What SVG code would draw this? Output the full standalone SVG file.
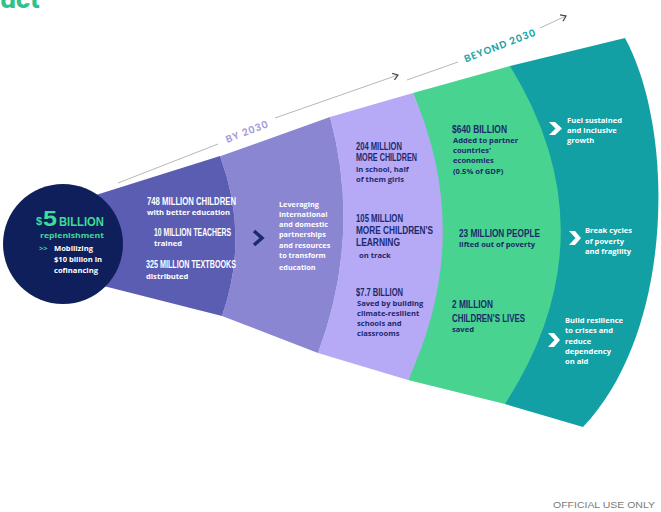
<svg xmlns="http://www.w3.org/2000/svg" width="661" height="512" viewBox="0 0 661 512">
<style>
.hd{font-family:"Liberation Sans",Arial,sans-serif;font-weight:700;font-size:11.5px}
.bd{font-family:"Open Sans","Liberation Sans",sans-serif;font-weight:700;font-size:7.6px}
.sm{font-size:7.3px}
.w{fill:#ffffff}
.n{fill:#1b2a6b}
.g{fill:#3ddc97}
.tl{stroke:#b8b8b8;stroke-width:1;fill:none}
.chev{fill:#ffffff}
</style>
<defs>
<marker id="arr" markerWidth="8" markerHeight="8" refX="6" refY="4" orient="auto" markerUnits="userSpaceOnUse">
<path d="M1,0.5 L6,4 L1,7.5" fill="none" stroke="#444" stroke-width="1.2"/>
</marker>
</defs>
<rect width="661" height="512" fill="#ffffff"/>
<text x="0" y="8" font-family="Poppins,'Liberation Sans',sans-serif" font-weight="700" font-size="22" fill="#2ec38b" textLength="40" lengthAdjust="spacingAndGlyphs">uct</text>

<g id="connectors">
<path class="tl" d="M118,183 L218,144"/>
<path class="tl" d="M275,118 L398,75" marker-end="url(#arr)"/>
<path class="tl" d="M407,80 L458,62"/>
<path class="tl" d="M540,28 L566,16" marker-end="url(#arr)"/>
<text x="247" y="135" transform="rotate(-21 247 131)" text-anchor="middle" font-family="Poppins,'Open Sans','Liberation Sans',sans-serif" font-weight="600" font-size="10" letter-spacing="0.8" fill="#a29ed9">BY 2030</text>
<text x="500" y="49" transform="rotate(-21 500 45)" text-anchor="middle" font-family="Poppins,'Open Sans','Liberation Sans',sans-serif" font-weight="600" font-size="10" letter-spacing="0.8" fill="#22a5a8">BEYOND 2030</text>
</g>

<g id="band5">
<path d="M510,66 L625,38 C675,130 675,330 583,427 L505,404 Z" fill="#12a0a5"/>
<path class="chev" d="M549,122 L555,122 L562,128.5 L555,135 L549,135 L555.5,128.5 Z"/>
<text class="bd w" x="567" y="123">Fuel sustained</text>
<text class="bd w" x="567" y="133">and inclusive</text>
<text class="bd w" x="567" y="143">growth</text>
<path class="chev" d="M569,231 L575,231 L581,238 L575,245 L569,245 L575.5,238 Z"/>
<text class="bd w" x="585" y="233">Break cycles</text>
<text class="bd w" x="585" y="243.5">of poverty</text>
<text class="bd w" x="585" y="254">and fragility</text>
<path class="chev" d="M548,333 L554,333 L560,340 L554,347 L548,347 L554.5,340 Z"/>
<text class="bd w" x="565" y="323">Build resilience</text>
<text class="bd w" x="565" y="333">to crises and</text>
<text class="bd w" x="565" y="344">reduce</text>
<text class="bd w" x="565" y="354">dependency</text>
<text class="bd w" x="565" y="364">on aid</text>
</g>

<g id="band4">
<path d="M413,93 L510,66 Q614,235 505,404 L408,380 Q470,236 413,93 Z" fill="#48d391"/>
<text class="hd n" x="452" y="133" textLength="55" lengthAdjust="spacingAndGlyphs">$640 BILLION</text>
<text class="bd n" x="453" y="143">Added to partner</text>
<text class="bd n" x="453" y="153">countries'</text>
<text class="bd n" x="453" y="163">economies</text>
<text class="bd n" x="453" y="174">(0.5% of GDP)</text>
<text class="hd n" x="459" y="237" textLength="81" lengthAdjust="spacingAndGlyphs">23 MILLION PEOPLE</text>
<text class="bd n" x="459" y="247">lifted out of poverty</text>
<text class="hd n" x="452" y="308" textLength="41" lengthAdjust="spacingAndGlyphs">2 MILLION</text>
<text class="hd n" x="452" y="322" textLength="73" lengthAdjust="spacingAndGlyphs">CHILDREN'S LIVES</text>
<text class="bd n" x="452" y="332">saved</text>
</g>

<g id="band3">
<path d="M330,117 L413,93 Q475,236 408,380 L318,353 Q362,235 330,117 Z" fill="#b6a9f6"/>
<text class="hd n" x="356" y="150" textLength="46" lengthAdjust="spacingAndGlyphs">204 MILLION</text>
<text class="hd n" x="356" y="161" textLength="61" lengthAdjust="spacingAndGlyphs">MORE CHILDREN</text>
<text class="bd n" x="356" y="172">in school, half</text>
<text class="bd n" x="356" y="182">of them girls</text>
<text class="hd n" x="356" y="222" textLength="47" lengthAdjust="spacingAndGlyphs">105 MILLION</text>
<text class="hd n" x="356" y="234" textLength="77" lengthAdjust="spacingAndGlyphs">MORE CHILDREN'S</text>
<text class="hd n" x="356" y="246" textLength="44" lengthAdjust="spacingAndGlyphs">LEARNING</text>
<text class="bd n" x="359" y="258">on track</text>
<text class="hd n" x="356" y="296" textLength="47" lengthAdjust="spacingAndGlyphs">$7.7 BILLION</text>
<text class="bd n" x="357" y="306">Saved by building</text>
<text class="bd n" x="357" y="316">climate-resilient</text>
<text class="bd n" x="357" y="326">schools and</text>
<text class="bd n" x="357" y="336">classrooms</text>
</g>

<g id="band2">
<path d="M218,157 L330,117 Q362,235 318,353 L222,316 Q250,236 220,156 Z" fill="#8a86d1"/>
<path d="M254,231 L262,238 L254,245" fill="none" stroke="#1b2a6b" stroke-width="3.5" stroke-linejoin="miter"/>
<text class="bd sm w" x="279" y="207">Leveraging</text>
<text class="bd sm w" x="279" y="217">international</text>
<text class="bd sm w" x="279" y="227">and domestic</text>
<text class="bd sm w" x="279" y="237">partnerships</text>
<text class="bd sm w" x="279" y="247.5">and resources</text>
<text class="bd sm w" x="279" y="258">to transform</text>
<text class="bd sm w" x="279" y="269.5">education</text>
</g>

<g id="band1">
<path d="M80,200 L220,156 Q250,236 222,316 L80,280 Z" fill="#5b5db3"/>
<text class="hd w" x="147" y="205" textLength="89" lengthAdjust="spacingAndGlyphs">748 MILLION CHILDREN</text>
<text class="bd w" x="147" y="215">with better education</text>
<text class="hd w" x="154" y="236" textLength="77" lengthAdjust="spacingAndGlyphs">10 MILLION TEACHERS</text>
<text class="bd w" x="154" y="246">trained</text>
<text class="hd w" x="146" y="268" textLength="90" lengthAdjust="spacingAndGlyphs">325 MILLION TEXTBOOKS</text>
<text class="bd w" x="146" y="279">distributed</text>
</g>

<g id="circle-node">
<circle cx="63" cy="244" r="60" fill="#0e1f5b"/>
<text x="36" y="225" font-family="'Liberation Sans',sans-serif" font-weight="700" font-size="11" class="g">$</text>
<text x="43" y="226" font-family="'Liberation Sans',sans-serif" font-weight="700" font-size="22" class="g" textLength="14" lengthAdjust="spacingAndGlyphs">5</text>
<text x="59" y="226" font-family="'Liberation Sans',sans-serif" font-weight="700" font-size="13" class="g" textLength="45" lengthAdjust="spacingAndGlyphs">BILLION</text>
<text class="bd g" x="40" y="238" textLength="64" lengthAdjust="spacingAndGlyphs">replenishment</text>
<text class="bd g" x="39" y="251" font-size="9">&gt;&gt;</text>
<text class="bd w" x="54" y="251">Mobilizing</text>
<text class="bd w" x="54" y="262">$10 billion in</text>
<text class="bd w" x="54" y="273">cofinancing</text>
</g>

<text x="553" y="508" font-family="'Liberation Sans',Arial,sans-serif" font-size="8.5" fill="#7a7a7a" textLength="102" lengthAdjust="spacingAndGlyphs">OFFICIAL USE ONLY</text>
</svg>
